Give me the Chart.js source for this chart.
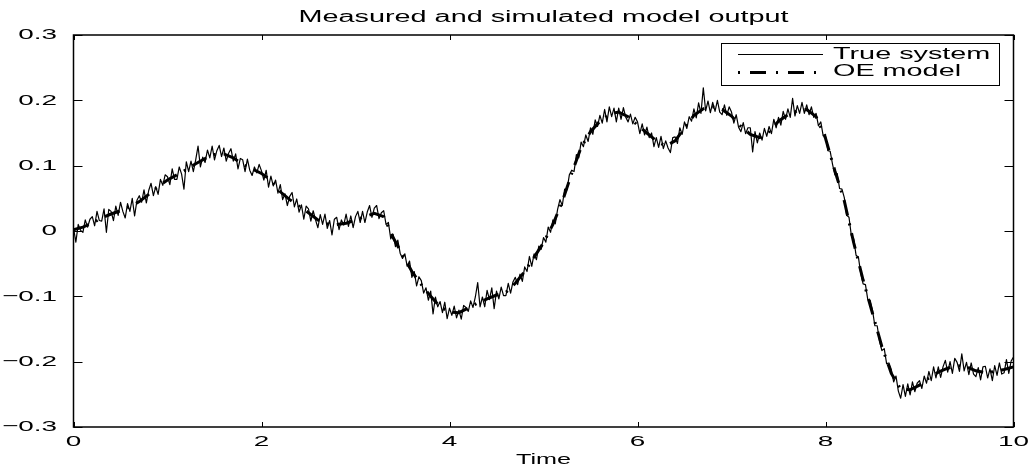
<!DOCTYPE html>
<html>
<head>
<meta charset="utf-8">
<script src="https://cdn.jsdelivr.net/npm/chart.js@4.4.1/dist/chart.umd.min.js"></script>
<style>
    html, body { margin: 0; padding: 0; background: #fff; }
    #wrap { width: 1035px; height: 470px; }
</style>
</head>
<body>
<div id="wrap"><canvas id="line-chart" width="1035" height="470"></canvas></div>
<script>
const xTickValues = [0, 2, 4, 6, 8, 10];
const xTickLabels = ["0", "2", "4", "6", "8", "10"];
const yTickValues = [-0.3, -0.2, -0.1, 0, 0.1, 0.2, 0.3];
const yTickLabels = ["\u22120.3", "\u22120.2", "\u22120.1", "0", "0.1", "0.2", "0.3"];
const seriesLabels = ["True system", "OE model"];

// OE model, one value every 0.1 s
const modelStep = 0.1;
const modelValues = [
    0.002, 0.006, 0.012, 0.020, 0.026, 0.031, 0.037, 0.045, 0.056, 0.068,
    0.078, 0.086, 0.094, 0.103, 0.111, 0.117, 0.118, 0.112, 0.102, 0.095,
    0.088, 0.078, 0.060, 0.048, 0.038, 0.028, 0.017, 0.011, 0.010, 0.012,
    0.017, 0.022, 0.027, 0.022, -0.010, -0.036, -0.062, -0.082, -0.100, -0.116,
    -0.124, -0.125, -0.118, -0.110, -0.104, -0.098, -0.094, -0.080, -0.062, -0.040,
    -0.018, 0.010, 0.045, 0.088, 0.128, 0.152, 0.168, 0.179, 0.182, 0.175,
    0.162, 0.150, 0.138, 0.130, 0.138, 0.158, 0.177, 0.187, 0.190, 0.186,
    0.176, 0.160, 0.148, 0.143, 0.152, 0.168, 0.178, 0.184, 0.186, 0.175,
    0.142, 0.092, 0.046, -0.018, -0.075, -0.126, -0.177, -0.218, -0.242, -0.243,
    -0.236, -0.225, -0.216, -0.210, -0.206, -0.208, -0.214, -0.217, -0.215, -0.212,
    -0.208
];

// measured output, one value every 0.025 s
const trueStep = 0.025;
const trueValues = [
    0.005, -0.017, 0.010, 0.001, -0.002, 0.017, 0.006, 0.018, 0.022, 0.008, 0.030, 0.016, 0.015, 0.034, -0.002, 0.033, 0.030, 0.016, 0.038, 0.024,
    0.044, 0.030, 0.020, 0.042, 0.030, 0.050, 0.023, 0.047, 0.054, 0.044, 0.063, 0.043, 0.062, 0.073, 0.054, 0.068, 0.056, 0.079, 0.070, 0.086,
    0.083, 0.071, 0.095, 0.079, 0.079, 0.098, 0.087, 0.064, 0.106, 0.091, 0.107, 0.091, 0.109, 0.130, 0.098, 0.113, 0.105, 0.124, 0.112, 0.130,
    0.109, 0.123, 0.131, 0.114, 0.127, 0.107, 0.119, 0.126, 0.107, 0.118, 0.095, 0.111, 0.109, 0.091, 0.110, 0.093, 0.085, 0.098, 0.089, 0.102,
    0.092, 0.078, 0.093, 0.067, 0.084, 0.069, 0.078, 0.058, 0.071, 0.048, 0.057, 0.039, 0.053, 0.059, 0.037, 0.049, 0.029, 0.040, 0.018, 0.038,
    0.034, 0.015, 0.031, 0.017, 0.005, 0.025, 0.010, 0.026, 0.004, 0.016, -0.006, 0.018, 0.021, 0.002, 0.017, 0.009, 0.026, 0.007, 0.023, 0.005,
    0.022, 0.030, 0.013, 0.030, 0.013, 0.029, 0.039, 0.021, 0.035, 0.039, 0.019, 0.028, 0.031, 0.010, 0.013, -0.012, -0.005, -0.024, -0.014, -0.034,
    -0.042, -0.035, -0.054, -0.046, -0.071, -0.062, -0.084, -0.070, -0.076, -0.095, -0.087, -0.106, -0.092, -0.127, -0.101, -0.116, -0.108, -0.125, -0.109, -0.134,
    -0.118, -0.129, -0.115, -0.133, -0.121, -0.135, -0.114, -0.117, -0.123, -0.107, -0.117, -0.101, -0.079, -0.116, -0.101, -0.116, -0.091, -0.105, -0.087, -0.119,
    -0.092, -0.104, -0.086, -0.099, -0.099, -0.080, -0.095, -0.078, -0.071, -0.082, -0.066, -0.077, -0.055, -0.062, -0.039, -0.054, -0.035, -0.044, -0.023, -0.028,
    -0.010, -0.017, 0.006, -0.002, 0.017, 0.011, 0.033, 0.048, 0.039, 0.064, 0.063, 0.086, 0.093, 0.091, 0.117, 0.112, 0.136, 0.129, 0.147, 0.137,
    0.158, 0.148, 0.170, 0.160, 0.177, 0.165, 0.186, 0.167, 0.190, 0.175, 0.188, 0.167, 0.188, 0.171, 0.189, 0.174, 0.167, 0.179, 0.164, 0.174,
    0.167, 0.149, 0.164, 0.147, 0.159, 0.143, 0.150, 0.129, 0.143, 0.128, 0.145, 0.126, 0.138, 0.127, 0.120, 0.143, 0.144, 0.134, 0.158, 0.148,
    0.167, 0.157, 0.175, 0.168, 0.187, 0.173, 0.196, 0.180, 0.219, 0.184, 0.199, 0.181, 0.197, 0.183, 0.200, 0.182, 0.178, 0.193, 0.177, 0.190,
    0.182, 0.165, 0.178, 0.159, 0.152, 0.166, 0.149, 0.158, 0.158, 0.121, 0.152, 0.135, 0.150, 0.139, 0.157, 0.145, 0.160, 0.149, 0.171, 0.158,
    0.174, 0.162, 0.183, 0.171, 0.187, 0.174, 0.203, 0.176, 0.192, 0.180, 0.197, 0.180, 0.193, 0.178, 0.190, 0.174, 0.180, 0.161, 0.167, 0.146,
    0.148, 0.123, 0.122, 0.102, 0.086, 0.088, 0.065, 0.064, 0.051, 0.024, 0.021, -0.007, -0.012, -0.037, -0.040, -0.065, -0.081, -0.082, -0.105, -0.106,
    -0.121, -0.145, -0.145, -0.169, -0.183, -0.180, -0.203, -0.202, -0.212, -0.231, -0.222, -0.245, -0.256, -0.235, -0.253, -0.234, -0.251, -0.231, -0.246, -0.233,
    -0.229, -0.241, -0.222, -0.233, -0.215, -0.229, -0.208, -0.225, -0.208, -0.224, -0.208, -0.198, -0.216, -0.200, -0.218, -0.195, -0.201, -0.215, -0.188, -0.214,
    -0.201, -0.220, -0.202, -0.219, -0.223, -0.209, -0.228, -0.208, -0.207, -0.225, -0.211, -0.229, -0.206, -0.221, -0.202, -0.219, -0.217, -0.197, -0.218, -0.199,
    -0.193
];

Chart.defaults.font.family = "'Liberation Sans', Arial, sans-serif";
Chart.defaults.color = "#000";

// the old figure was stretched sideways, text included
const TEXT_STRETCH = 1.8;
const canvas = document.getElementById("line-chart");
const ctx = canvas.getContext("2d");
const rawFillText = ctx.fillText;
ctx.fillText = function (text, x, y, maxWidth) {
    this.save();
    this.translate(x, y);
    this.scale(TEXT_STRETCH, 1);
    if (maxWidth === undefined) rawFillText.call(this, text, 0, 0);
    else rawFillText.call(this, text, 0, 0, maxWidth / TEXT_STRETCH);
    this.restore();
};

// box, inward ticks on all four sides and the legend
const matlabFrame = {
    id: "matlabFrame",
    afterDraw(chart) {
        const c = chart.ctx;
        const a = chart.chartArea;
        const sx = chart.scales.x, sy = chart.scales.y;
        c.save();
        c.strokeStyle = "#000";
        c.lineWidth = 1;
        xTickValues.forEach(v => {
            const px = Math.round(sx.getPixelForValue(v)) + 0.5;
            c.beginPath();
            c.moveTo(px, a.bottom); c.lineTo(px, a.bottom - 5);
            c.moveTo(px, a.top); c.lineTo(px, a.top + 5);
            c.stroke();
        });
        yTickValues.forEach(v => {
            const py = Math.round(sy.getPixelForValue(v)) + 0.5;
            c.beginPath();
            c.moveTo(a.left, py); c.lineTo(a.left + 9, py);
            c.moveTo(a.right, py); c.lineTo(a.right - 9, py);
            c.stroke();
        });
        c.lineWidth = 1.5;
        c.strokeRect(a.left, a.top, a.right - a.left, a.bottom - a.top);

        // legend
        const lx = a.right - 292.5, ly = a.top + 8, lw = 278, lh = 42;
        c.fillStyle = "#fff";
        c.fillRect(lx, ly, lw, lh);
        c.lineWidth = 1;
        c.strokeRect(lx + 0.5, ly + 0.5, lw, lh);
        const ds = chart.data.datasets;
        const rows = [ly + 11.5, ly + 29.5];
        ds.forEach((d, i) => {
            c.beginPath();
            c.lineWidth = i === 1 ? d.borderWidth : 1;
            c.setLineDash(i === 1 ? [2, 10, 16, 10] : []);
            c.moveTo(lx + 17, rows[i]);
            c.lineTo(lx + 102, rows[i]);
            c.stroke();
        });
        c.setLineDash([]);
        c.fillStyle = "#000";
        c.font = "16px 'Liberation Sans', Arial, sans-serif";
        c.textAlign = "left";
        c.textBaseline = "alphabetic";
        c.fillText(seriesLabels[0], lx + 112, ly + 15.5);
        c.fillText(seriesLabels[1], lx + 112, ly + 33);
        c.restore();
    }
};

const truePoints = trueValues.map((v, i) => ({ x: i * trueStep, y: v }));
const modelPoints = modelValues.map((v, i) => ({ x: i * modelStep, y: v }));

new Chart(canvas, {
    type: "line",
    data: {
        datasets: [{
            label: seriesLabels[0],
            data: truePoints,
            borderColor: "#000",
            borderWidth: 1.2,
            borderJoinStyle: "round",
            pointRadius: 0,
            fill: false,
            order: 1
        }, {
            label: seriesLabels[1],
            data: modelPoints,
            borderColor: "#000",
            borderWidth: 3,
            borderDash: [16, 8, 2, 8],
            pointRadius: 0,
            fill: false,
            order: 0
        }]
    },
    options: {
        responsive: false,
        animation: false,
        events: [],
        layout: { padding: { left: 0, right: 21.5, top: 0, bottom: 0 } },
        plugins: {
            legend: { display: false },
            tooltip: { enabled: false },
            title: {
                display: true,
                text: "Measured and simulated model output",
                color: "#000",
                fullSize: false,
                font: { size: 16, weight: "normal" },
                padding: { top: 8, bottom: 7.8 }
            }
        },
        scales: {
            x: {
                type: "linear",
                min: 0,
                max: 10,
                afterBuildTicks: s => { s.ticks = xTickValues.map(v => ({ value: v })); },
                afterFit: s => { s.height = 43; },
                ticks: {
                    callback: (v, i) => xTickLabels[i],
                    font: { size: 15.5 },
                    padding: -2.3,
                    maxRotation: 0,
                    autoSkip: false
                },
                grid: { display: false },
                border: { display: false },
                title: {
                    display: true,
                    text: "Time",
                    font: { size: 14 },
                    padding: { top: 0, bottom: 1.6 }
                }
            },
            y: {
                type: "linear",
                min: -0.3,
                max: 0.3,
                afterBuildTicks: s => { s.ticks = yTickValues.map(v => ({ value: v })); },
                afterFit: s => { s.width = 73.5; },
                ticks: {
                    callback: (v, i) => yTickLabels[i],
                    font: { size: 15.5 },
                    padding: 8.5,
                    autoSkip: false
                },
                grid: { display: false },
                border: { display: false }
            }
        }
    },
    plugins: [matlabFrame]
});
</script>
</body>
</html>
